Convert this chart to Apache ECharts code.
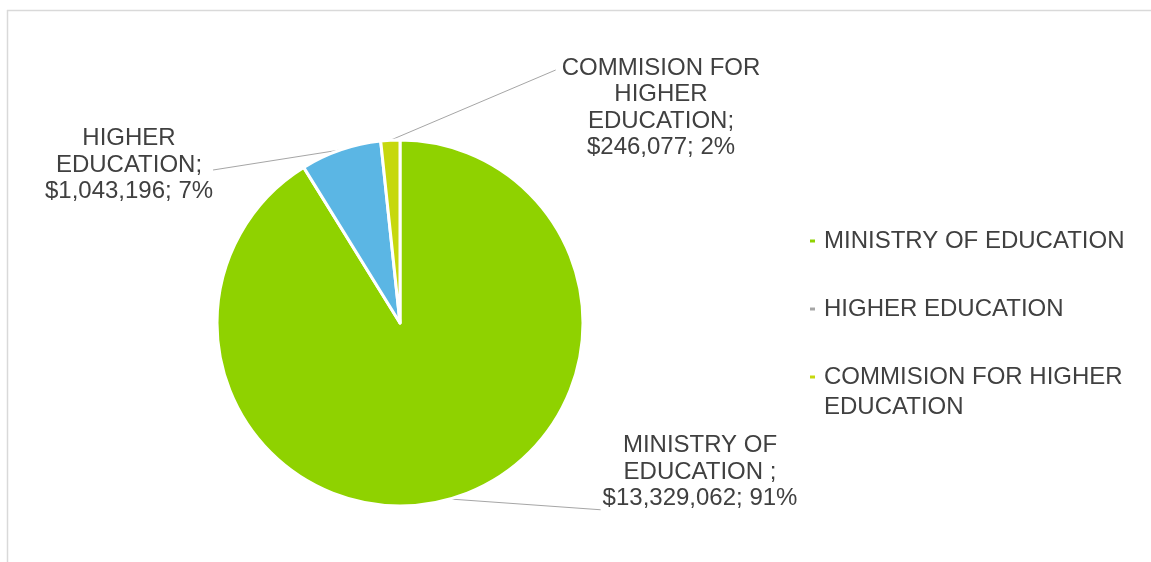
<!DOCTYPE html>
<html>
<head>
<meta charset="utf-8">
<script src="https://cdn.jsdelivr.net/npm/echarts@6/dist/echarts.min.js"></script>
<style>
  html, body { margin: 0; padding: 0; background: #ffffff; }
  #chart { width: 1151px; height: 562px; }
</style>
</head>
<body>
<div id="chart"></div>
<script>
// Budget allocation by body
const categories = ['MINISTRY OF EDUCATION', 'HIGHER EDUCATION', 'COMMISION FOR HIGHER EDUCATION'];
const amounts = [13329062, 1043196, 246077];
// Label headings as they wrap beside the pie
const labelHeads = ['MINISTRY OF\nEDUCATION ;', 'HIGHER\nEDUCATION;', 'COMMISION FOR\nHIGHER\nEDUCATION;'];
// Legend entries; the leading blank line keeps the icon level with the first text line
const legendTexts = ['MINISTRY OF EDUCATION', 'HIGHER EDUCATION', '\nCOMMISION FOR HIGHER\nEDUCATION'];

const sliceColors = ['#8fd200', '#5bb6e4', '#c6d80e'];
const legendColors = ['#8fd200', '#a6a6a6', '#c6d80e'];
// Where each data label sits (centre of the text block)
const labelSpots = [[700, 472], [129, 165], [661, 108]];
// Which corner of the label block each leader line meets: [x side, y offset from centre]
const leaderEnds = [
  (s, w, h) => [s[0] - w / 2 - 2, s[1] + h / 2 - 2],
  (s, w, h) => [s[0] + w / 2, s[1] + 5],
  (s, w, h) => [s[0] - w / 2 - 6, s[1] - h / 2 + 15]
];
const legendTops = [226, 294, 332];

const FONT = '"Liberation Sans", Arial, sans-serif';
const TEXT = '#404040';

const chart = echarts.init(document.getElementById('chart'), null, { renderer: 'canvas' });

const legends = categories.map((name, i) => ({
  data: [{ name: name, itemStyle: { color: legendColors[i] } }],
  orient: 'vertical',
  left: 808,
  top: legendTops[i],
  padding: 0,
  icon: 'rect',
  itemWidth: 7,
  itemHeight: 5,
  selectedMode: false,
  formatter: () => legendTexts[i],
  textStyle: {
    fontFamily: FONT,
    fontSize: 24,
    color: TEXT,
    lineHeight: 30,
    padding: [0, 0, 0, 3]
  }
}));

chart.setOption({
  backgroundColor: '#ffffff',
  animation: false,
  graphic: [
    { type: 'line', shape: { x1: 7, y1: 10.5, x2: 1151, y2: 10.5 }, style: { stroke: '#d9d9d9', lineWidth: 1.5 } },
    { type: 'line', shape: { x1: 7.5, y1: 10, x2: 7.5, y2: 562 }, style: { stroke: '#d9d9d9', lineWidth: 1.5 } }
  ],
  legend: legends,
  series: [{
    type: 'pie',
    center: [400, 323],
    radius: 183,
    startAngle: 90,
    clockwise: true,
    data: categories.map((name, i) => ({
      name: name,
      value: amounts[i],
      itemStyle: { color: sliceColors[i] }
    })),
    itemStyle: { borderColor: '#ffffff', borderWidth: 3 },
    label: {
      show: true,
      position: 'outside',
      fontFamily: FONT,
      fontSize: 24,
      color: TEXT,
      lineHeight: 26.5,
      align: 'center',
      formatter: p => labelHeads[p.dataIndex] + '\n$' + p.value.toLocaleString('en-US') + '; ' + Math.round(p.percent) + '%'
    },
    labelLine: {
      show: true,
      length: 20,
      length2: 20,
      lineStyle: { color: '#a6a6a6', width: 1 }
    },
    labelLayout: function (params) {
      const i = params.dataIndex;
      const s = labelSpots[i];
      const r = params.labelRect;
      const start = params.labelLinePoints ? params.labelLinePoints[0] : null;
      const out = { x: s[0], y: s[1], align: 'center', verticalAlign: 'middle' };
      if (start) {
        out.labelLinePoints = [start, leaderEnds[i](s, r.width, r.height)];
      }
      return out;
    },
    emphasis: { disabled: true }
  }]
});
</script>
</body>
</html>
